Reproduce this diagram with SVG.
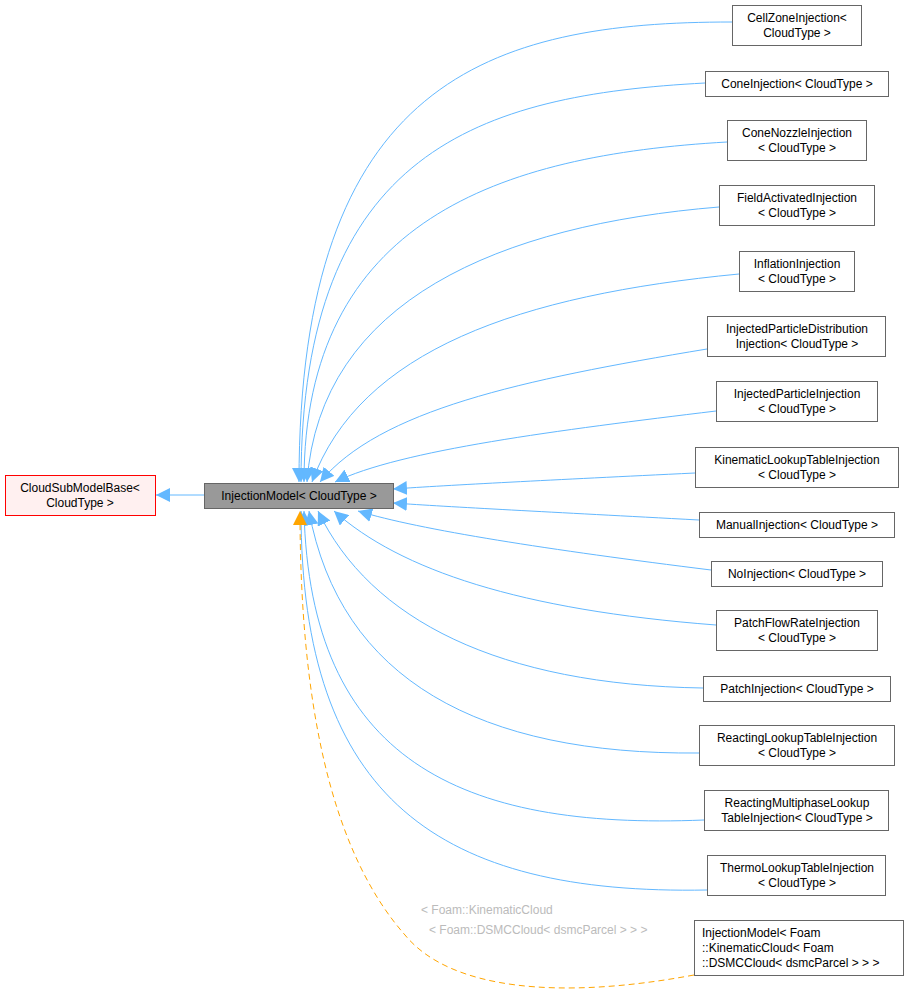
<svg xmlns="http://www.w3.org/2000/svg" width="908" height="995" viewBox="0 0 908 995">
<style>
text{font-family:"Liberation Sans",Arial,sans-serif;font-size:12px;fill:#000;text-anchor:middle}
.n{fill:#fff;stroke:#666;stroke-width:1}
.e{fill:none;stroke:#63b8ff;stroke-width:1}
.d{fill:none;stroke:#ffa500;stroke-width:1;stroke-dasharray:6,4}
.l{fill:#bbb;text-anchor:start}
</style>
<defs>
<marker id="a" viewBox="0 0 10 10" refX="10" refY="5" markerWidth="14" markerHeight="14" markerUnits="userSpaceOnUse" orient="auto"><path d="M0,0L10,5L0,10z" fill="#63b8ff"/></marker>
<marker id="o" viewBox="0 0 10 10" refX="10" refY="5" markerWidth="14" markerHeight="14" markerUnits="userSpaceOnUse" orient="auto"><path d="M0,0L10,5L0,10z" fill="#ffa500"/></marker>
</defs>
<rect width="908" height="995" fill="#fff"/>
<g id="edges">
<path class="e" marker-end="url(#a)" d="M204,495L156,495"/>
<path class="e" marker-end="url(#a)" d="M732,22C490,22 299,80 299,482"/>
<path class="e" marker-end="url(#a)" d="M705,83C480,95 301,150 301,482"/>
<path class="e" marker-end="url(#a)" d="M727,142C500,155 304,220 304,482"/>
<path class="e" marker-end="url(#a)" d="M719,207C500,225 320,300 307,482"/>
<path class="e" marker-end="url(#a)" d="M739,274C520,295 360,350 312,482"/>
<path class="e" marker-end="url(#a)" d="M707,349C520,380 380,410 320,482"/>
<path class="e" marker-end="url(#a)" d="M716,411C560,430 400,450 335,482"/>
<path class="e" marker-end="url(#a)" d="M695,473C550,480 450,485 393,489"/>
<path class="e" marker-end="url(#a)" d="M699,520C550,512 450,507 393,503"/>
<path class="e" marker-end="url(#a)" d="M711,570C550,550 420,530 358,511"/>
<path class="e" marker-end="url(#a)" d="M716,625C520,610 400,570 334,511"/>
<path class="e" marker-end="url(#a)" d="M703,688C500,685 370,620 318,511"/>
<path class="e" marker-end="url(#a)" d="M699,753C480,755 340,680 309,511"/>
<path class="e" marker-end="url(#a)" d="M704,820C460,830 310,760 304,511"/>
<path class="e" marker-end="url(#a)" d="M707,890C440,895 301,800 301,511"/>
<path class="d" marker-end="url(#o)" d="M694,975C560,1000 450,990 405,935C330,850 300,700 300,511"/>
<text class="l" x="421" y="914">&lt; Foam::KinematicCloud</text>
<text class="l" x="429" y="934">&lt; Foam::DSMCCloud&lt; dsmcParcel &gt; &gt; &gt;</text>
</g>
<g id="CloudSubModelBase"><rect x="5.5" y="475.5" width="150" height="40" fill="#fff0f0" stroke="#f00"/><text x="80" y="492">CloudSubModelBase&lt;</text><text x="80" y="507">CloudType &gt;</text></g>
<g id="InjectionModel"><rect x="204.5" y="483.5" width="189" height="25" fill="#999" stroke="#666"/><text x="299" y="500">InjectionModel&lt; CloudType &gt;</text></g>
<g id="n1"><rect class="n" x="732.5" y="5.5" width="129" height="40"/><text x="797" y="22">CellZoneInjection&lt;</text><text x="797" y="37">CloudType &gt;</text></g>
<g id="n2"><rect class="n" x="705.5" y="71.5" width="183" height="25"/><text x="797" y="88">ConeInjection&lt; CloudType &gt;</text></g>
<g id="n3"><rect class="n" x="727.5" y="120.5" width="139" height="40"/><text x="797" y="137">ConeNozzleInjection</text><text x="797" y="152">&lt; CloudType &gt;</text></g>
<g id="n4"><rect class="n" x="719.5" y="185.5" width="155" height="40"/><text x="797" y="202">FieldActivatedInjection</text><text x="797" y="217">&lt; CloudType &gt;</text></g>
<g id="n5"><rect class="n" x="739.5" y="251.5" width="115" height="40"/><text x="797" y="268">InflationInjection</text><text x="797" y="283">&lt; CloudType &gt;</text></g>
<g id="n6"><rect class="n" x="707.5" y="316.5" width="178" height="40"/><text x="797" y="333">InjectedParticleDistribution</text><text x="797" y="348">Injection&lt; CloudType &gt;</text></g>
<g id="n7"><rect class="n" x="716.5" y="381.5" width="161" height="40"/><text x="797" y="398">InjectedParticleInjection</text><text x="797" y="413">&lt; CloudType &gt;</text></g>
<g id="n8"><rect class="n" x="695.5" y="447.5" width="203" height="40"/><text x="797" y="464">KinematicLookupTableInjection</text><text x="797" y="479">&lt; CloudType &gt;</text></g>
<g id="n9"><rect class="n" x="699.5" y="512.5" width="195" height="25"/><text x="797" y="529">ManualInjection&lt; CloudType &gt;</text></g>
<g id="n10"><rect class="n" x="711.5" y="561.5" width="171" height="25"/><text x="797" y="578">NoInjection&lt; CloudType &gt;</text></g>
<g id="n11"><rect class="n" x="716.5" y="610.5" width="161" height="40"/><text x="797" y="627">PatchFlowRateInjection</text><text x="797" y="642">&lt; CloudType &gt;</text></g>
<g id="n12"><rect class="n" x="703.5" y="676.5" width="187" height="25"/><text x="797" y="693">PatchInjection&lt; CloudType &gt;</text></g>
<g id="n13"><rect class="n" x="699.5" y="725.5" width="195" height="40"/><text x="797" y="742">ReactingLookupTableInjection</text><text x="797" y="757">&lt; CloudType &gt;</text></g>
<g id="n14"><rect class="n" x="704.5" y="790.5" width="184" height="40"/><text x="797" y="807">ReactingMultiphaseLookup</text><text x="797" y="822">TableInjection&lt; CloudType &gt;</text></g>
<g id="n15"><rect class="n" x="707.5" y="855.5" width="178" height="40"/><text x="797" y="872">ThermoLookupTableInjection</text><text x="797" y="887">&lt; CloudType &gt;</text></g>
<g id="n16"><rect class="n" x="694.5" y="920.5" width="209" height="55"/><text x="702" y="937" style="text-anchor:start">InjectionModel&lt; Foam</text><text x="702" y="952" style="text-anchor:start">::KinematicCloud&lt; Foam</text><text x="702" y="967" style="text-anchor:start">::DSMCCloud&lt; dsmcParcel &gt; &gt; &gt;</text></g>
</svg>
